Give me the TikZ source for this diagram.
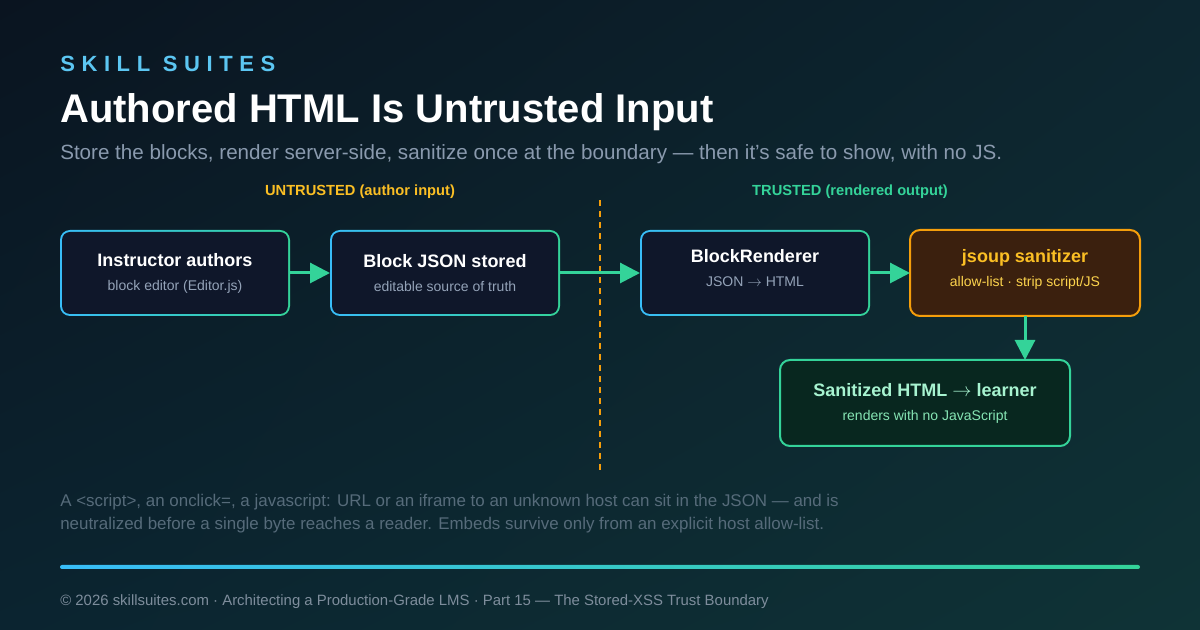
\documentclass[tikz,border=0pt]{standalone}
\usepackage{fontspec}
\setmainfont{Liberation Sans}
\usepackage{xcolor}
\usetikzlibrary{positioning, arrows.meta, shadings}

\definecolor{bgTL}{HTML}{0A1420}
\definecolor{bgTR}{HTML}{0D2630}
\definecolor{bgBL}{HTML}{0B2430}
\definecolor{bgBR}{HTML}{0F3336}
\definecolor{skyBlue}{HTML}{38BDF8}
\definecolor{mint}{HTML}{34D399}
\definecolor{brandBlue}{HTML}{5CC6F2}
\definecolor{tagGray}{HTML}{8A9AAE}
\definecolor{noteGray}{HTML}{566B7A}
\definecolor{footGray}{HTML}{7E8D9C}
\definecolor{navyFill}{HTML}{0F172A}
\definecolor{boxSub}{HTML}{94A3B8}
\definecolor{amber}{HTML}{FBBF24}
\definecolor{amberLine}{HTML}{F59E0B}
\definecolor{amberFill}{HTML}{3B200E}
\definecolor{amberSub}{HTML}{FCD34D}
\definecolor{leafFill}{HTML}{08271F}
\definecolor{leafHead}{HTML}{A7F3D0}
\definecolor{leafSub}{HTML}{86E5B4}

\newcommand{\boxhead}[1]{{\fontsize{13.5}{16}\selectfont\bfseries\color{white}#1}}
\newcommand{\lowpad}{\rule[-8pt]{0pt}{8pt}}
\newcommand{\toarrow}{$\rightarrow$}

\begin{document}
\begin{tikzpicture}[x=0.75pt, y=-0.75pt, node distance=30pt, box/.style={ rectangle, rounded corners=7.5pt, align=center, inner sep=0pt, outer sep=0pt, minimum width=172.5pt, minimum height=64.5pt, text=boxSub, font=\fontsize{10.5}{18}\selectfont }, gradbox/.style={ box, left color=skyBlue, right color=mint, path picture={\fill[navyFill, rounded corners=6pt] ([shift={(1.5pt,1.5pt)}]path picture bounding box.south west) rectangle ([shift={(-1.5pt,-1.5pt)}]path picture bounding box.north east);} }, sanbox/.style={ box, draw=amberLine, line width=1.5pt, fill=amberFill, text=amberSub }, learnbox/.style={ box, draw=mint, line width=1.5pt, fill=leafFill, text=leafSub, minimum width=217.5pt }, flow/.style={ -{Triangle[length=15pt, width=15pt]}, line width=2.25pt, draw=mint }, plain/.style={ anchor=base west, inner sep=0pt } ]
\useasboundingbox (0,0) rectangle (1200,630);
\shade[upper left=bgTL, upper right=bgTR, lower left=bgBL, lower right=bgBR] (0,0) rectangle (1200,630);

% --- Heading ---
\node[plain, text=brandBlue, font=\fontsize{16.5}{20}\selectfont\bfseries\addfontfeature{LetterSpace=30}] (brand) at (60,72) {SKILL SUITES};
\node[plain, text=white, font=\fontsize{30}{36}\selectfont\bfseries] (headline) at (60,123) {Authored HTML Is Untrusted Input};
\node[plain, text=tagGray, font=\fontsize{15.45}{18}\selectfont] (tagline) at (60,160) {Store the blocks, render server-side, sanitize once at the boundary — then it's safe to show, with no JS.};

% --- Zones ---
\node[anchor=base, inner sep=0pt, text=amber, font=\fontsize{11}{13}\selectfont\bfseries] (untrusted) at (360,196) {UNTRUSTED (author input)};
\node[anchor=base, inner sep=0pt, text=mint, font=\fontsize{11}{13}\selectfont\bfseries] (trusted) at (850,196) {TRUSTED (rendered output)};
\draw[amberLine, line width=1.1pt, dash pattern=on 4.5pt off 3.75pt] (600,200) -- (600,470);

% --- Pipeline ---
\node[gradbox] (authors) at (175,273) {\boxhead{Instructor authors}\\ block editor (Editor.js)};
\node[gradbox, right=of authors] (stored) {\boxhead{Block JSON stored}\\ editable source of truth};
\node[gradbox, right=60pt of stored] (renderer) {\boxhead{BlockRenderer}\\ JSON \toarrow{} HTML\lowpad};
\node[sanbox, right=of renderer] (sanitizer) {\boxhead{\color{amber}jsoup sanitizer}\\ allow-list · strip script/JS\lowpad};
\node[learnbox, below=33pt of sanitizer, xshift=-75pt] (learner) {\boxhead{\color{leafHead}Sanitized HTML \toarrow{} learner}\\ renders with no JavaScript};

\draw[flow] (authors) -- (stored);
\draw[flow] (stored) -- (renderer);
\draw[flow] (renderer) -- (sanitizer);
\draw[flow] (sanitizer.south) -- (learner.north -| sanitizer);

% --- Note and footer ---
\node[plain, text=noteGray, font=\fontsize{12.7}{15}\selectfont] (note1) at (60,507) {A <script>, an onclick=, a javascript: URL or an iframe to an unknown host can sit in the JSON — and is};
\node[plain, text=noteGray, font=\fontsize{12.7}{15}\selectfont] (note2) at (60,530) {neutralized before a single byte reaches a reader. Embeds survive only from an explicit host allow-list.};
\shade[left color=skyBlue, right color=mint, rounded corners=1.5pt] (60,565) rectangle (1140,569);
\node[plain, text=footGray, font=\fontsize{11.2}{13}\selectfont] (footer) at (60,606) {© 2026 skillsuites.com · Architecting a Production-Grade LMS · Part 15 — The Stored-XSS Trust Boundary};
\end{tikzpicture}
\end{document}
